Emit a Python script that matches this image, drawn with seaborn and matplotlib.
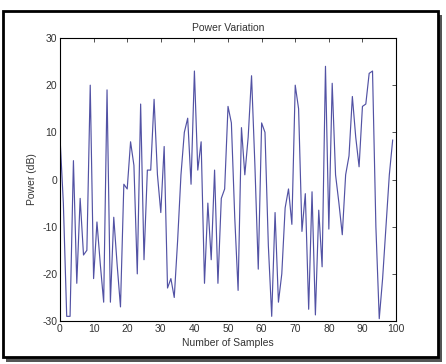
import numpy as np
import pandas as pd
import matplotlib
matplotlib.use('agg')
import matplotlib.pyplot as plt
from matplotlib.patches import Rectangle
import seaborn as sns

# power samples (dB)
samples = list(range(100))
power_db = [9, -5, -29, -29, 4, -22, -4, -16, -15, 20,
            -21, -9, -18, -26, 19, -26, -8, -18, -27, -1,
            -2, 8, 3, -20, 16, -17, 2, 2, 17, 1,
            -7, 7, -23, -21, -25, -13, 1, 10, 13, -1,
            23, 2, 8, -22, -5, -17, 2, -22, -4, -2,
            15.5, 12, -8, -23.5, 11, 1, 9, 22, 3, -19,
            12, 10, -14, -29, -7, -26, -20, -6, -2, -9.5,
            20, 15, -11, -3, -27.5, -2.6, -28.7, -6.5, -18.5, 24,
            -10.5, 20.4, 1, -5, -11.7, 1, 5, 17.6, 9, 2.7,
            15.5, 16, 22.5, 23, -10, -29.5, -21, -10, 1, 8.4]
x_ticks = list(range(0, 101, 10))
y_ticks = [-30, -20, -10, 0, 10, 20, 30]

df = pd.DataFrame({'sample': samples, 'power': power_db})

sns.set_style('white')
plt.rcParams['font.family'] = ['Liberation Sans', 'DejaVu Sans']
plt.rcParams['axes.unicode_minus'] = False

fig = plt.figure(figsize=(4.46, 3.64), dpi=100)
fig.patch.set_facecolor('white')

# frame with a drop shadow round the whole figure
fig.patches.append(Rectangle((0.014, 0.005), 0.976, 0.955, transform=fig.transFigure,
                             facecolor='#555555', edgecolor='none', zorder=0))
fig.patches.append(Rectangle((0.007, 0.018), 0.975, 0.953, transform=fig.transFigure,
                             facecolor='white', edgecolor='black', linewidth=2, zorder=1))

ax = fig.add_axes([0.1345, 0.118, 0.7535, 0.7776])
ax.set_zorder(2)
sns.lineplot(data=df, x='sample', y='power', ax=ax, color='#5252a4', linewidth=0.85)

ax.set_xlim(0, 100)
ax.set_ylim(-30, 30)
ax.set_xticks(x_ticks)
ax.set_yticks(y_ticks)
ax.tick_params(direction='in', length=3, width=0.6, top=True, right=True,
               labelsize=7.5, pad=2, colors='#333333')
for s in ax.spines.values():
    s.set_visible(True)
    s.set_color('black')
    s.set_linewidth(0.8)

ax.set_title('Power Variation', fontsize=7.5, pad=5, color='#333333')
ax.set_xlabel('Number of Samples', fontsize=7.5, labelpad=3, color='#333333')
ax.set_ylabel('Power (dB)', fontsize=7.5, labelpad=4, color='#333333')

fig.savefig('out.png', dpi=100)
